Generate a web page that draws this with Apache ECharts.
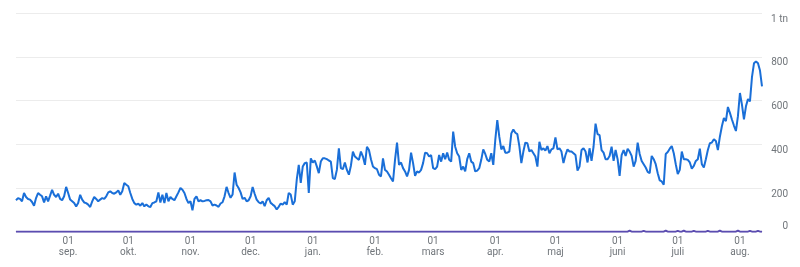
<!DOCTYPE html>
<html>
<head>
<meta charset="utf-8">
<script src="https://cdn.jsdelivr.net/npm/echarts@6/dist/echarts.min.js"></script>
<style>
html,body{margin:0;padding:0;background:#fff;}
#chart{width:800px;height:267px;}
</style>
</head>
<body>
<div id="chart"></div>
<script>
// First day of the series (daily data, 373 days)
const startDate = '2023-08-06';
const monthNames = ['jan.','feb.','mars','apr.','maj','juni','juli','aug.','sep.','okt.','nov.','dec.'];
const yTickLabels = {0:'0',200:'200',400:'400',600:'600',800:'800',1000:'1 tn'};

const clicks = [
144,154,150,139,177,159,150,147,136,119,
154,177,169,162,134,162,139,165,192,169,
159,174,150,144,162,205,177,147,139,131,
116,131,169,147,134,131,124,113,139,159,
150,139,147,154,150,162,180,185,177,174,
180,189,169,185,223,215,208,177,150,131,
124,128,119,131,116,124,116,113,131,134,
139,180,134,169,131,177,139,159,150,144,
162,180,200,192,177,150,131,139,98,150,
162,139,144,139,
141,144,145,139,120,124,120,114,129,135,
162,205,177,155,170,271,215,200,180,150,
155,139,144,162,205,174,147,135,129,139,
117,144,155,132,124,117,102,114,129,124,
135,124,177,170,124,139,238,306,223,299,
314,317,177,336,317,326,299,268,321,336,
336,332,326,321,245,241,283,382,291,286,
317,283,261,302,367,344,336,329,367,344,
306,389,374,332,299,291,286,261,253,336,
283,276,261,245,230,329,
408,306,317,291,276,253,283,362,314,256,
276,271,283,314,362,359,344,351,291,286,
298,351,321,359,332,362,329,321,458,389,
359,344,283,298,276,332,359,321,314,276,
280,291,329,377,356,329,321,359,306,420,
511,435,377,392,362,362,367,450,468,453,
447,392,314,367,408,405,367,374,359,344,
298,412,374,382,371,392,359,377,382,432,
377,382,367,314,351,377,367,367,359,351,
280,298,374,382,367,
317,382,324,389,495,447,442,374,362,332,
332,347,389,324,374,332,256,351,374,347,
380,367,347,298,324,408,356,324,309,294,
274,268,347,332,309,268,235,230,215,356,
365,380,392,359,309,264,283,367,332,332,
329,317,289,301,324,332,380,309,294,332,
374,405,408,423,415,374,435,483,521,506,
571,544,514,486,461,529,635,582,514,574,
607,597,708,771,780,771,738,665
];

const conversions = [
0,0,0,0,0,0,0,0,0,0, 0,0,0,0,0,0,0,0,0,0, 0,0,0,0,0,0,0,0,0,0, 0,0,0,0,0,0,0,0,0,0,
0,0,0,0,0,0,0,0,0,0, 0,0,0,0,0,0,0,0,0,0, 0,0,0,0,0,0,0,0,0,0, 0,0,0,0,0,0,0,0,0,0,
0,0,0,0,0,0,0,0,0,0, 0,0,0,0,0,0,0,0,0,0, 0,0,0,0,0,0,0,0,0,0, 0,0,0,0,0,0,0,0,0,0,
0,0,0,0,0,0,0,0,0,0, 0,0,0,0,0,0,0,0,0,0, 0,0,0,0,0,0,0,0,0,0, 0,0,0,0,0,0,0,0,0,0,
0,0,0,0,0,0,0,0,0,0, 0,0,0,0,0,0,0,0,0,0, 0,0,0,0,0,0,0,0,0,0, 0,0,0,0,0,0,0,0,0,0,
0,0,0,0,0,0,0,0,0,0, 0,0,0,0,0,0,0,0,0,0, 0,0,0,0,0,0,0,0,0,0, 0,0,0,0,0,0,0,0,0,0,
0,0,0,0,0,0,0,0,0,0, 0,0,0,0,0,0,0,0,0,0, 0,0,0,0,0,0,0,0,0,0, 0,0,0,0,0,0,0,0,0,0,
0,0,0,0,0,0,0,0,0,0, 0,0,0,0,0,0,0,0,0,0, 0,0,0,0,0,0,5,0,0,0, 0,0,0,4,0,0,0,0,0,0,
0,0,0,0,5,0,0,0,0,0, 4,0,0,5,0,0,0,0,4,0, 0,0,0,0,0,4,0,0,0,0, 0,5,0,0,0,0,0,0,0,0,
5,0,0,0,0,0,4,0,0,0, 4,0,0
];

const categories = [];
{
  const d0 = new Date(startDate + 'T00:00:00Z');
  for (let i = 0; i < clicks.length; i++) {
    const d = new Date(d0.getTime() + i * 86400000);
    categories.push(d.toISOString().slice(0, 10));
  }
}

const textColor = '#70757a';
const chart = echarts.init(document.getElementById('chart'), null, {renderer: 'canvas'});
chart.setOption({
  animation: false,
  textStyle: {fontFamily: 'Roboto'},
  grid: {left: 16, right: 38, top: 13.3, bottom: 35.3, containLabel: false},
  xAxis: {
    type: 'category',
    data: categories,
    boundaryGap: false,
    axisLine: {show: true, lineStyle: {color: '#dadce0'}},
    axisTick: {show: false},
    splitLine: {show: false},
    axisLabel: {
      interval: (idx, val) => val.slice(8, 10) === '01',
      formatter: (val) => '01\n' + monthNames[parseInt(val.slice(5, 7), 10) - 1],
      color: textColor,
      fontSize: 10,
      lineHeight: 11,
      margin: 4,
      fontFamily: 'Roboto'
    }
  },
  yAxis: [
    {
      type: 'value', position: 'right', min: 0, max: 1000, interval: 200,
      axisLine: {show: false}, axisTick: {show: false},
      splitLine: {show: true, lineStyle: {color: '#ececec', width: 1}},
      axisLabel: {
        align: 'right', margin: 26, verticalAlign: 'top', padding: [1, 0, 0, 0],
        color: textColor, fontSize: 10, fontFamily: 'Roboto',
        formatter: (v) => v === 0 ? '' : (yTickLabels[v] || '')
      }
    },
    {
      type: 'value', position: 'right', min: 0, max: 1000, interval: 200,
      axisLine: {show: false}, axisTick: {show: false}, splitLine: {show: false},
      axisLabel: {
        align: 'right', margin: 26, verticalAlign: 'bottom',
        color: textColor, fontSize: 10, fontFamily: 'Roboto',
        formatter: (v) => v === 0 ? yTickLabels[0] : ''
      }
    }
  ],
  series: [
    {
      type: 'line', data: clicks, yAxisIndex: 0,
      symbol: 'none', showSymbol: false,
      lineStyle: {color: '#1a6fd8', width: 2},
      itemStyle: {color: '#1a6fd8'}
    },
    {
      type: 'line', data: conversions, yAxisIndex: 0,
      symbol: 'none', showSymbol: false,
      lineStyle: {color: '#5b4cb0', width: 2},
      itemStyle: {color: '#5b4cb0'}, z: 3
    }
  ]
});
</script>
</body>
</html>
